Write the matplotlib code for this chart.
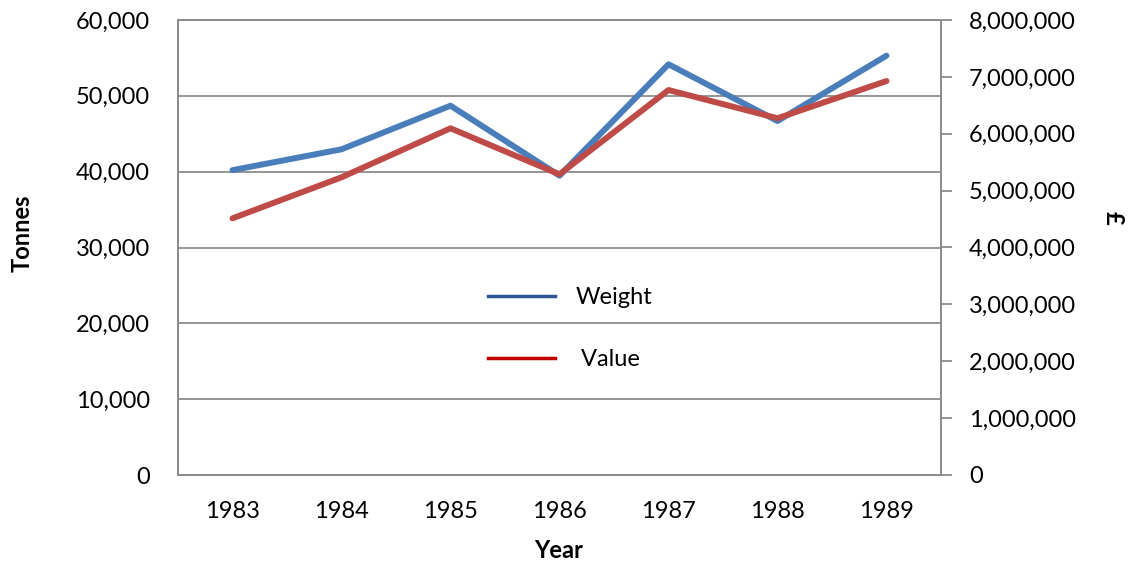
import numpy as np
import matplotlib.pyplot as plt
from matplotlib.lines import Line2D
from matplotlib.ticker import FuncFormatter

years = ['1983', '1984', '1985', '1986', '1987', '1988', '1989']
weight = [40200, 42950, 48700, 39470, 54160, 46680, 55300]   # tonnes
value = [4513000, 5234000, 6096000, 5287000, 6769000, 6272000, 6927000]   # pounds

plt.rcParams['font.family'] = ['Lato', 'DejaVu Sans']
plt.rcParams['font.size'] = 17

grey = '#8c8c8c'
comma = FuncFormatter(lambda v, p: '{:,.0f}'.format(v))

fig = plt.figure(figsize=(11.36, 5.63), dpi=100)
ax = fig.add_axes([178/1136, 88/563, 763/1136, 455/563])
ax2 = ax.twinx()

x = np.arange(len(years))
ax.plot(x, weight, color='#4a7ebb', lw=4.3, solid_capstyle='round')
ax2.plot(x, value, color='#be4b48', lw=4.3, solid_capstyle='round')

ax.set_xlim(-0.5, 6.5)
ax.set_xticks(x)
ax.set_xticklabels(years)
ax.set_ylim(0, 60000)
ax.set_yticks(np.arange(0, 60001, 10000))
ax.yaxis.set_major_formatter(comma)
ax2.set_ylim(0, 8000000)
ax2.set_yticks(np.arange(0, 8000001, 1000000))
ax2.yaxis.set_major_formatter(comma)

ax.grid(axis='y', color=grey, lw=1.3)
ax.set_axisbelow(True)
for a in (ax, ax2):
    for s in a.spines.values():
        s.set_color(grey)
        s.set_linewidth(1.3)
ax.tick_params(axis='x', length=0, pad=19)
ax.tick_params(axis='y', length=0, pad=20)
ax2.tick_params(axis='y', length=8, width=1.3, color=grey, pad=12)

# axis titles placed in figure pixels
fig.text(559/1136, 1 - 550/563, 'Year', fontweight='bold', ha='center', va='center')
fig.text(22/1136, 1 - 233/563, 'Tonnes', fontweight='bold', rotation=90, ha='center', va='center')
fig.text(1113/1136, 1 - 218/563, '£', fontweight='bold', rotation=270, ha='center', va='center')

handles = [Line2D([], [], color='#2f5597', lw=2.5),
           Line2D([], [], color='#c00000', lw=2.5)]
ax2.legend(handles, ['Weight', ' Value'], frameon=False,
           loc='upper left', bbox_to_anchor=(476/1136, 1 - 275/563),
           bbox_transform=fig.transFigure, handlelength=2.85,
           handletextpad=0.85, labelspacing=1.75, borderpad=0)

fig.savefig('out.png', dpi=100)
